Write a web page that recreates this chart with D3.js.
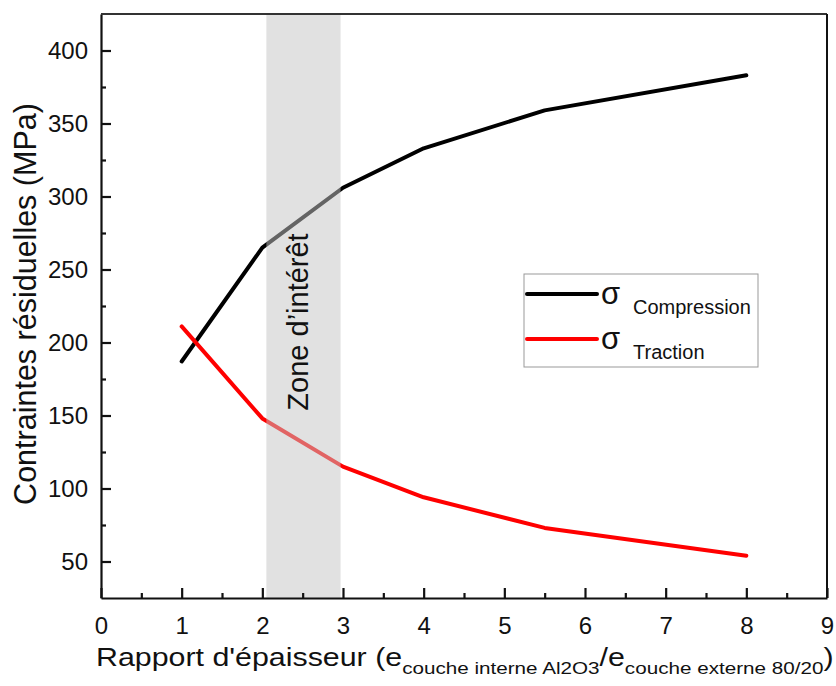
<!DOCTYPE html>
<html><head><meta charset="utf-8">
<script src="https://cdn.jsdelivr.net/npm/d3@7"></script>
<style>body{margin:0;background:#fff;} text{font-family:Arial,"Liberation Sans",sans-serif;fill:#111;}</style>
</head><body>
<svg id="c" width="836" height="686"></svg>
<script>
const xCompression = [1, 2, 3, 4, 5.5, 8];
const compression = [187, 265, 306, 333, 359, 383];
const xTraction = [1, 2, 3, 4, 5.5, 8];
const traction = [211, 148, 115, 94, 73, 54];
const xTicks = [0,1,2,3,4,5,6,7,8,9];
const yTicks = [50,100,150,200,250,300,350,400];
const zone = [2.05, 2.97];
const seriesNames = ["Compression", "Traction"];

const svg = d3.select("#c");
const L = 101, R = 827, T = 14, B = 598;
const x = d3.scaleLinear().domain([0, 9]).range([L, R]);
const y = d3.scaleLinear().domain([25, 425]).range([B, T]);

const line = d3.line().x(d => x(d[0])).y(d => y(d[1]));
const cData = xCompression.map((v,i)=>[v, compression[i]]);
const tData = xTraction.map((v,i)=>[v, traction[i]]);

svg.append("path").datum(cData).attr("d", line).attr("fill","none").attr("stroke","#000").attr("stroke-width",4).attr("stroke-linejoin","round").attr("stroke-linecap","round");
svg.append("path").datum(tData).attr("d", line).attr("fill","none").attr("stroke","#ff0000").attr("stroke-width",4).attr("stroke-linejoin","round").attr("stroke-linecap","round");

// shaded zone on top
svg.append("rect").attr("x", x(zone[0])).attr("y", T).attr("width", x(zone[1]) - x(zone[0])).attr("height", B - T)
  .attr("fill", "#c4c4c4").attr("fill-opacity", 0.51);

svg.append("text").attr("transform", `translate(308,322) rotate(-90)`)
  .attr("text-anchor","middle").attr("font-size",29).text("Zone d’intérêt");

// axes
const xAxis = d3.axisBottom(x).tickValues(xTicks).tickSizeInner(-10).tickSizeOuter(0).tickPadding(19);
const gx = svg.append("g").attr("transform", `translate(0,${B})`).call(xAxis);
gx.selectAll("text").attr("font-size",24).attr("fill","#111");
const xMinor = d3.axisBottom(x).tickValues(d3.range(0.5, 9, 1)).tickSizeInner(-5).tickSizeOuter(0).tickFormat("");
svg.append("g").attr("transform", `translate(0,${B})`).call(xMinor).select(".domain").remove();

const yAxis = d3.axisLeft(y).tickValues(yTicks).tickSizeInner(-10).tickSizeOuter(0).tickPadding(13);
const gy = svg.append("g").attr("transform", `translate(${L},0)`).call(yAxis);
gy.selectAll("text").attr("font-size",24).attr("fill","#111");
const yMinor = d3.axisLeft(y).tickValues(d3.range(75, 425, 50)).tickSizeInner(-5).tickSizeOuter(0).tickFormat("");
svg.append("g").attr("transform", `translate(${L},0)`).call(yMinor).select(".domain").remove();

svg.selectAll(".tick line").attr("stroke","#111").attr("stroke-width",2.2);
svg.selectAll(".domain").attr("stroke","#111").attr("stroke-width",2.2);

// frame top/right
svg.append("line").attr("x1",L).attr("x2",R).attr("y1",T).attr("y2",T).attr("stroke","#333").attr("stroke-width",2);
svg.append("line").attr("x1",R).attr("x2",R).attr("y1",T).attr("y2",B).attr("stroke","#111").attr("stroke-width",2);

// legend
const lg = svg.append("g");
lg.append("rect").attr("x",524).attr("y",274).attr("width",234).attr("height",93).attr("fill","#fff").attr("stroke","#999").attr("stroke-width",1);
const legendRows = [{name:seriesNames[0], color:"#000", yy:294}, {name:seriesNames[1], color:"#ff0000", yy:339}];
legendRows.forEach(r => {
  lg.append("line").attr("x1",527).attr("x2",597).attr("y1",r.yy).attr("y2",r.yy).attr("stroke",r.color).attr("stroke-width",4).attr("stroke-linecap","round");
  lg.append("text").attr("x",601).attr("y",r.yy+10).attr("font-size",31).text("σ");
  lg.append("text").attr("x",633).attr("y",r.yy+20).attr("font-size",20).text(r.name);
});

// axis titles
svg.append("text").attr("transform","translate(36,304) rotate(-90)").attr("text-anchor","middle").attr("font-size",30.5).text("Contraintes résiduelles (MPa)");

const xt = svg.append("text").attr("transform","translate(96,666) scale(1.215,1)").attr("font-size",25);
xt.append("tspan").text("Rapport d'épaisseur (e");
xt.append("tspan").attr("font-size",17).attr("dy",8).text("couche interne Al2O3");
xt.append("tspan").attr("dy",-8).text("/e");
xt.append("tspan").attr("font-size",17).attr("dy",8).text("couche externe 80/20");
xt.append("tspan").attr("dy",-8).text(")");
</script>
</body></html>
